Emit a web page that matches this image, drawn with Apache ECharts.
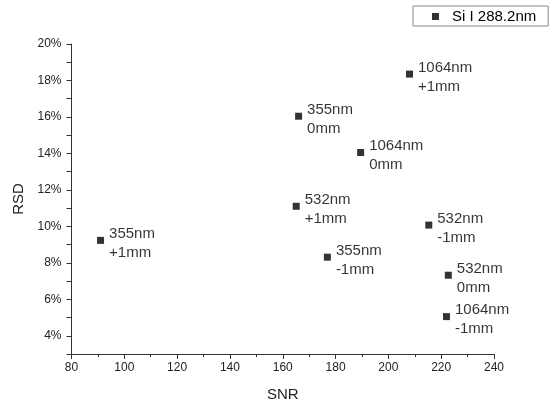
<!DOCTYPE html>
<html>
<head>
<meta charset="utf-8">
<script src="https://cdn.jsdelivr.net/npm/echarts@6/dist/echarts.min.js"></script>
<style>html,body{margin:0;padding:0;background:#fff}#c{width:554px;height:405px}</style>
</head>
<body>
<div id="c"></div>
<script>
var seriesName = 'Si I 288.2nm';
var snr = [91.0, 166.0, 176.9, 165.1, 222.7, 215.3, 208.0, 189.5, 222.0];
var rsd = [9.23, 16.04, 8.31, 11.10, 7.32, 10.07, 18.35, 14.05, 5.05];
var pointLabels = ['355nm\n+1mm', '355nm\n0mm', '355nm\n-1mm', '532nm\n+1mm', '532nm\n0mm', '532nm\n-1mm', '1064nm\n+1mm', '1064nm\n0mm', '1064nm\n-1mm'];
var xTicks = [80, 100, 120, 140, 160, 180, 200, 220, 240];
var yTickLabels = ['4%', '6%', '8%', '10%', '12%', '14%', '16%', '18%', '20%'];

var data = snr.map(function (x, i) { return { value: [x, rsd[i]], name: pointLabels[i] }; });
var font = 'Liberation Sans, Arial, sans-serif';
var axisColor = '#333';

var chart = echarts.init(document.getElementById('c'), null, { renderer: 'canvas' });
chart.setOption({
  backgroundColor: '#fff',
  animation: false,
  textStyle: { fontFamily: font },
  grid: { left: 71.5, right: 60, top: 44, bottom: 51, containLabel: false, outerBoundsMode: 'none' },
  legend: {
    left: 413, top: 6,
    padding: [3, 12, 2, 19],
    borderColor: '#888', borderWidth: 1, borderRadius: 0,
    itemWidth: 7, itemHeight: 7,
    icon: 'rect',
    itemStyle: { color: '#000' },
    textStyle: { fontSize: 15, color: '#000', fontFamily: font, padding: [0, 0, 0, 8] },
    data: [seriesName]
  },
  xAxis: {
    type: 'value', min: 80, max: 240, interval: 20,
    name: 'SNR', nameLocation: 'middle', nameGap: 33,
    nameTextStyle: { fontSize: 15, color: '#222', fontFamily: font },
    axisLine: { show: true, lineStyle: { color: axisColor, width: 1 } },
    axisTick: { show: true, inside: false, length: 5, lineStyle: { color: axisColor } },
    minorTick: { show: true, splitNumber: 2, length: 3, lineStyle: { color: axisColor } },
    splitLine: { show: false },
    axisLabel: {
      margin: 8, fontSize: 12, color: '#222', fontFamily: font,
      formatter: function (v) { return xTicks.indexOf(v) >= 0 ? String(v) : ''; }
    }
  },
  yAxis: [{
    type: 'value', min: 3, max: 20, interval: 1,
    name: 'RSD', nameLocation: 'middle', nameGap: 44, nameRotate: 90,
    nameTextStyle: { fontSize: 15, color: '#222', fontFamily: font },
    axisLine: { show: true, lineStyle: { color: axisColor, width: 1 } },
    axisTick: {
      show: true, length: 5, lineStyle: { color: axisColor },
      interval: function (i, v) { return yTickLabels.indexOf(v + '%') >= 0; }
    },
    splitLine: { show: false },
    axisLabel: {
      margin: 10, fontSize: 12, color: '#222', fontFamily: font,
      interval: function (i, v) { return yTickLabels.indexOf(v + '%') >= 0; },
      formatter: function (v) { var s = v + '%'; return yTickLabels.indexOf(s) >= 0 ? s : ''; }
    }
  }, {
    type: 'value', min: 3, max: 20, interval: 1, position: 'left',
    gridIndex: 0,
    axisLine: { show: false },
    axisTick: {
      show: true, length: 3, lineStyle: { color: axisColor },
      interval: function (i, v) { return v > 3 && yTickLabels.indexOf(v + '%') < 0; }
    },
    splitLine: { show: false },
    axisLabel: { show: false }
  }],
  series: [{
    name: seriesName,
    type: 'scatter',
    yAxisIndex: 0,
    symbol: 'rect',
    symbolSize: 7,
    itemStyle: { color: '#000' },
    data: data,
    label: {
      show: true,
      position: 'right',
      distance: 5,
      offset: [0, 3],
      fontSize: 15,
      lineHeight: 19,
      color: '#000',
      fontFamily: font,
      formatter: function (p) { return p.name; }
    }
  }]
});
</script>
</body>
</html>
